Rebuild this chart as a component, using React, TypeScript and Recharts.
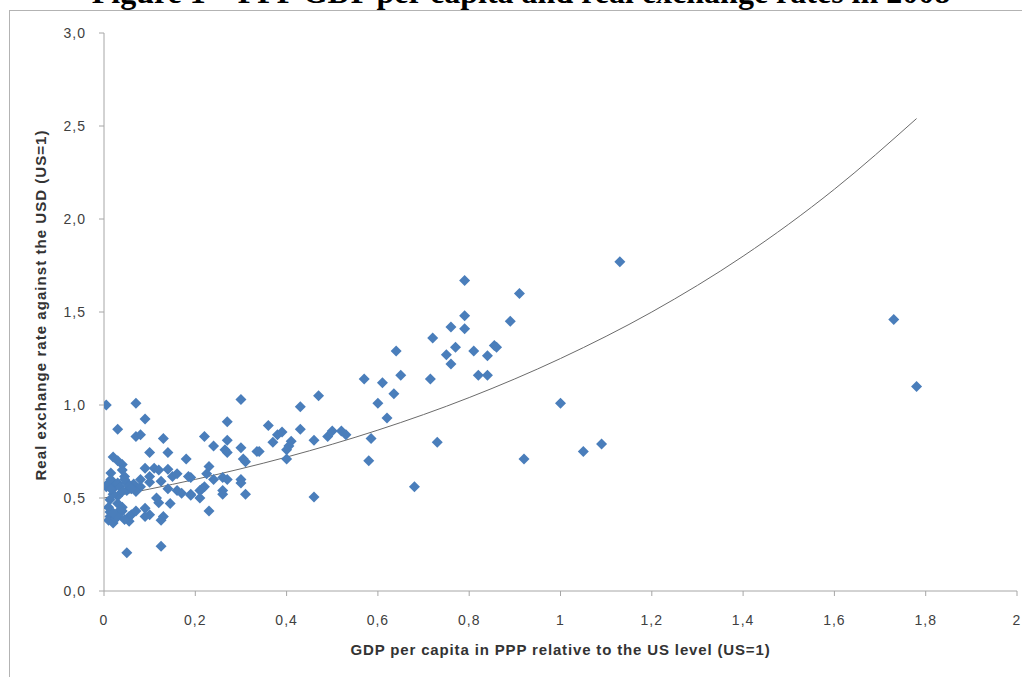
import React from "react"
import { ComposedChart, Scatter, Line, XAxis, YAxis } from "recharts"

// GDP per capita (US=1) vs real exchange rate (US=1), one pair per country
const countries: [number, number][] = [
  [1.13, 1.77], [0.79, 1.67], [0.91, 1.6], [0.79, 1.48], [0.89, 1.45], [0.76, 1.42], [0.79, 1.41],
  [0.72, 1.36], [0.64, 1.29], [0.77, 1.31], [0.75, 1.27], [0.81, 1.29], [0.855, 1.32], [0.86, 1.31],
  [0.84, 1.265], [0.76, 1.22], [0.82, 1.16], [0.84, 1.16], [0.57, 1.14], [0.61, 1.12], [0.65, 1.16],
  [0.715, 1.14], [0.635, 1.06], [0.6, 1.01], [0.62, 0.93], [1.0, 1.01], [0.585, 0.82], [0.58, 0.7],
  [0.73, 0.8], [0.92, 0.71], [1.05, 0.75], [1.09, 0.79], [0.68, 0.56], [1.73, 1.46], [1.78, 1.1],
  [0.47, 1.05], [0.43, 0.99], [0.36, 0.89], [0.38, 0.84], [0.39, 0.855], [0.37, 0.8], [0.43, 0.87],
  [0.41, 0.805], [0.405, 0.78], [0.4, 0.76], [0.4, 0.71], [0.34, 0.75], [0.46, 0.81], [0.49, 0.83],
  [0.5, 0.86], [0.52, 0.86], [0.53, 0.84], [0.46, 0.505],
  [0.27, 0.91], [0.22, 0.83], [0.27, 0.81], [0.24, 0.78], [0.265, 0.76], [0.27, 0.745], [0.3, 0.77],
  [0.305, 0.71], [0.31, 0.695], [0.335, 0.75], [0.23, 0.67], [0.225, 0.63], [0.19, 0.61], [0.24, 0.6],
  [0.26, 0.61], [0.27, 0.6], [0.3, 0.6], [0.3, 0.58], [0.22, 0.56], [0.215, 0.55], [0.21, 0.54],
  [0.26, 0.54], [0.26, 0.52], [0.31, 0.52], [0.21, 0.5], [0.19, 0.52], [0.23, 0.43], [0.3, 1.03],
  [0.005, 1.0], [0.07, 1.01], [0.09, 0.925], [0.03, 0.87], [0.07, 0.83], [0.08, 0.84], [0.13, 0.82],
  [0.1, 0.745], [0.14, 0.745], [0.18, 0.71], [0.02, 0.72], [0.03, 0.7], [0.04, 0.68], [0.09, 0.66],
  [0.11, 0.66], [0.12, 0.65], [0.14, 0.655], [0.015, 0.635], [0.04, 0.65], [0.045, 0.615], [0.1, 0.615],
  [0.08, 0.6], [0.125, 0.59], [0.15, 0.615], [0.16, 0.63], [0.185, 0.615], [0.065, 0.575], [0.08, 0.56],
  [0.1, 0.585], [0.14, 0.55], [0.16, 0.54], [0.17, 0.525], [0.19, 0.515], [0.07, 0.535], [0.05, 0.54],
  [0.115, 0.5], [0.12, 0.475], [0.145, 0.47], [0.09, 0.445], [0.1, 0.41], [0.13, 0.4], [0.125, 0.38],
  [0.09, 0.4], [0.04, 0.45], [0.04, 0.43], [0.055, 0.4], [0.055, 0.375], [0.013, 0.4], [0.01, 0.38],
  [0.02, 0.365], [0.03, 0.51], [0.03, 0.47], [0.035, 0.435], [0.013, 0.49], [0.01, 0.45], [0.013, 0.425],
  [0.05, 0.205], [0.125, 0.24],
  [0.005, 0.56], [0.01, 0.58], [0.02, 0.55], [0.015, 0.6], [0.025, 0.57], [0.03, 0.58], [0.035, 0.56],
  [0.04, 0.535], [0.05, 0.58], [0.055, 0.57], [0.02, 0.52], [0.025, 0.39], [0.03, 0.4], [0.02, 0.42],
  [0.045, 0.385], [0.06, 0.41], [0.07, 0.43], [0.015, 0.55], [0.045, 0.6], [0.06, 0.55],
]

// exponential trend line
const trendX = [0, 0.2, 0.4, 0.6, 0.8, 1.0, 1.2, 1.4, 1.6, 1.78]
const trendY = [0.5, 0.6, 0.72, 0.865, 1.04, 1.25, 1.5, 1.8, 2.16, 2.54]

const xTicks = [0, 0.2, 0.4, 0.6, 0.8, 1, 1.2, 1.4, 1.6, 1.8, 2]
const yTicks = [0, 0.5, 1, 1.5, 2, 2.5, 3]

const scatterData = countries.map(([x, y]) => ({ x, y }))
const trendData = trendX.map((x, i) => ({ x, y: trendY[i] }))

const AXIS = "#a6a6a6"
const BLUE = "#4A7EBB"
const FONT = "'Liberation Sans', Arial, sans-serif"
const tickStyle = { fill: "#404040", fontSize: 14, fontFamily: FONT, letterSpacing: 1 }

const fmtX = (v: number) => String(v).replace(".", ",")
const fmtY = (v: number) => v.toFixed(1).replace(".", ",")

const Diamond = (props: any) => {
  const { cx, cy } = props
  const r = 5.5
  return (
    <polygon
      points={`${cx},${cy - r} ${cx + r},${cy} ${cx},${cy + r} ${cx - r},${cy}`}
      fill={BLUE}
    />
  )
}

export default function App() {
  return (
    <div style={{ position: "fixed", left: 0, top: 0, width: 1022, height: 677, overflow: "hidden", background: "#fff" }}>
      <div
        style={{
          position: "absolute", left: 0, width: 1042, top: -24, textAlign: "center",
          fontFamily: "'Liberation Serif', 'Times New Roman', serif", fontWeight: "bold",
          fontSize: 32, lineHeight: "32px", color: "#000", whiteSpace: "nowrap",
        }}
      >
        Figure 1 – PPP GDP per capita and real exchange rates in 2008
      </div>
      <div style={{ position: "absolute", left: 9, top: 10, width: 1030, height: 700, border: "1.5px solid #b3b3b3" }} />
      <div style={{ position: "absolute", left: 0, top: 0 }}>
        <ComposedChart width={1022} height={677} margin={{ top: 33, right: 5, bottom: 56, left: 0 }}>
          <XAxis
            type="number" dataKey="x" domain={[0, 2]} ticks={xTicks} tickFormatter={fmtX}
            axisLine={{ stroke: AXIS }} tickLine={{ stroke: AXIS }} tickSize={5} tickMargin={19} height={30}
            tick={tickStyle} interval={0} allowDataOverflow
          />
          <YAxis
            type="number" dataKey="y" domain={[0, 3]} ticks={yTicks} tickFormatter={fmtY}
            axisLine={{ stroke: AXIS }} tickLine={{ stroke: AXIS }} tickSize={5} tickMargin={13} width={104}
            tick={tickStyle} interval={0}
          />
          <Scatter data={scatterData} dataKey="y" shape={<Diamond />} isAnimationActive={false} />
          <Line
            data={trendData} dataKey="y" type="monotone" stroke="#6b6b6b" strokeWidth={1}
            dot={false} activeDot={false} isAnimationActive={false}
          />
        </ComposedChart>
      </div>
      <div
        style={{
          position: "absolute", left: 104, width: 913, top: 641, textAlign: "center",
          fontFamily: FONT, fontWeight: "bold", fontSize: 15, letterSpacing: 0.85, color: "#333", whiteSpace: "nowrap",
        }}
      >
        GDP per capita in PPP relative to the US level (US=1)
      </div>
      <div style={{ position: "absolute", left: 40, top: 305, width: 0, height: 0 }}>
        <div
          style={{
            position: "absolute", left: 0, top: 0, transform: "translate(-50%, -50%) rotate(-90deg)",
            fontFamily: FONT, fontWeight: "bold", fontSize: 15, letterSpacing: 1.05, color: "#333", whiteSpace: "nowrap",
          }}
        >
          Real exchange rate against the USD (US=1)
        </div>
      </div>
    </div>
  )
}
